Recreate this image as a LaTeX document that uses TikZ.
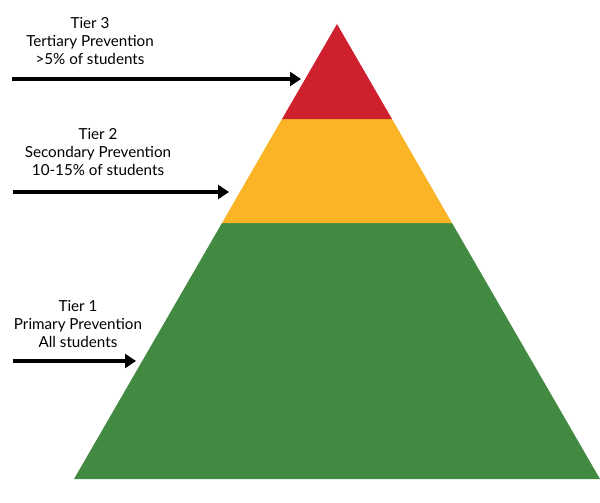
\documentclass[tikz,border=0pt]{standalone}
\usepackage{fontspec}
\setmainfont{Lato}
\usetikzlibrary{arrows.meta}
\definecolor{nivelrojo}{RGB}{207,32,46}
\definecolor{nivelamarillo}{RGB}{251,180,38}
\definecolor{nivelverde}{RGB}{66,137,65}
\begin{document}
\begin{tikzpicture}[x=1pt,y=-1pt] % un punto por pixel

    % Marco fijo del dibujo
    \useasboundingbox (0,0) rectangle (600,503);

    \tikzset{
        flecha/.style={line width=3.2pt, -{Triangle[length=11pt,width=14pt]}},
        etiqueta/.style={align=center, font=\fontsize{15.2}{17.8}\selectfont, inner sep=0pt}
    }

    % 1. Vertices de la piramide
    \coordinate (cima) at (337,24);
    \coordinate (baseizq) at (74,479);
    \coordinate (baseder) at (600,479);
    \coordinate (rojoizq) at (282,119);
    \coordinate (rojoder) at (392,119);
    \coordinate (amarilloizq) at (222,223);
    \coordinate (amarilloder) at (452,223);

    % 2. Rellenar los tres niveles
    \fill[nivelverde] (amarilloizq) -- (amarilloder) -- (baseder) -- (baseizq) -- cycle;
    \fill[nivelamarillo] (rojoizq) -- (rojoder) -- (amarilloder) -- (amarilloizq) -- cycle;
    \fill[nivelrojo] (cima) -- (rojoder) -- (rojoizq) -- cycle;

    % 3. Textos de cada nivel
    \node[etiqueta] (nivel3) at (90,41) {Tier 3\\Tertiary Prevention\\>5\% of students};
    \node[etiqueta] (nivel2) at (98,152) {Tier 2\\Secondary Prevention\\10-15\% of students};
    \node[etiqueta] (nivel1) at (78,324) {Tier 1\\Primary Prevention\\All students};

    % 4. Flechas hacia la piramide
    \coordinate (inicio3) at (12,79);
    \coordinate (fin3) at (301,79);
    \coordinate (inicio2) at (13,192);
    \coordinate (fin2) at (229,192);
    \coordinate (inicio1) at (13,361);
    \coordinate (fin1) at (136,361);
    \draw[flecha] (inicio3) -- (fin3);
    \draw[flecha] (inicio2) -- (fin2);
    \draw[flecha] (inicio1) -- (fin1);

\end{tikzpicture}
\end{document}
